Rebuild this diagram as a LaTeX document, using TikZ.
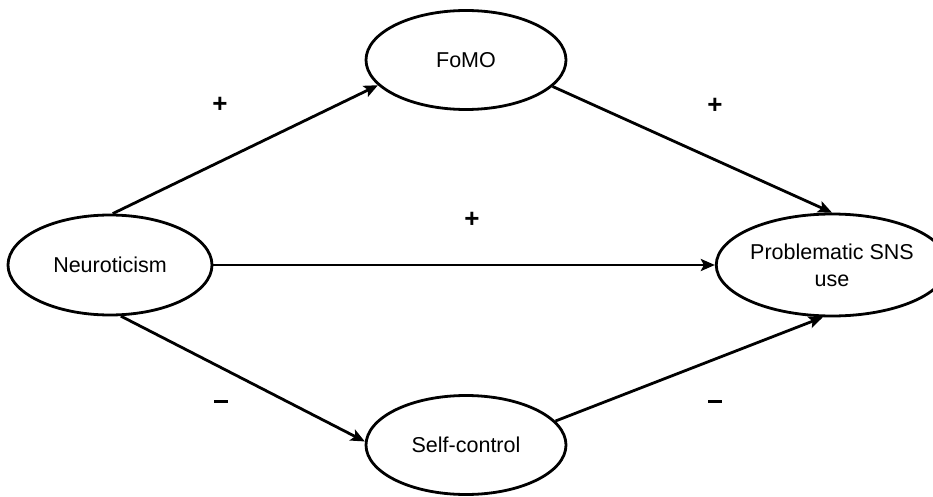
\documentclass[tikz,border=0pt]{standalone}
\usepackage{fontspec}
\setmainfont{Liberation Sans}
\usetikzlibrary{shapes.geometric,arrows.meta}
\begin{document}
\begin{tikzpicture}[x=1pt,y=-1pt,
  latent/.style={ellipse, draw, line width=2.8pt, inner sep=0pt,
    font=\fontsize{21.5}{27}\selectfont, align=center},
  link/.style={line width=2.8pt, -{Stealth[length=14pt,width=12pt,inset=3pt]}},
  sign/.style={font=\fontsize{26}{26}\selectfont\bfseries, inner sep=0pt}
]
\useasboundingbox (0,0) rectangle (933,497);

% constructs
\node[latent, minimum width=204pt, minimum height=100pt] (neu) at (110,265) {Neuroticism};
\node[latent, minimum width=200pt, minimum height=99pt]  (fomo) at (466,60) {FoMO};
\node[latent, minimum width=198pt, minimum height=102pt] (psns) at (832,265) {Problematic SNS\\use};
\node[latent, minimum width=200pt, minimum height=99pt]  (sc) at (466,445) {Self-control};

% paths
\draw[link] (neu.87) -- (fomo.196);
\draw[link] (fomo.-17) -- (psns.north);
\draw[link] (neu.east) -- (psns.west);
\draw[link] (neu.-78) -- (sc.178);
\draw[link] (sc.15) -- (psns.-100);

% signs of the effects
\node[sign] (s1) at (220,105) {+};
\node[sign] (s2) at (715,106) {+};
\node[sign] (s3) at (472,220) {+};
\node[sign] (s4) at (221,401) {\rule{14pt}{3pt}};
\node[sign] (s5) at (715,401) {\rule{14pt}{3pt}};
\end{tikzpicture}
\end{document}
